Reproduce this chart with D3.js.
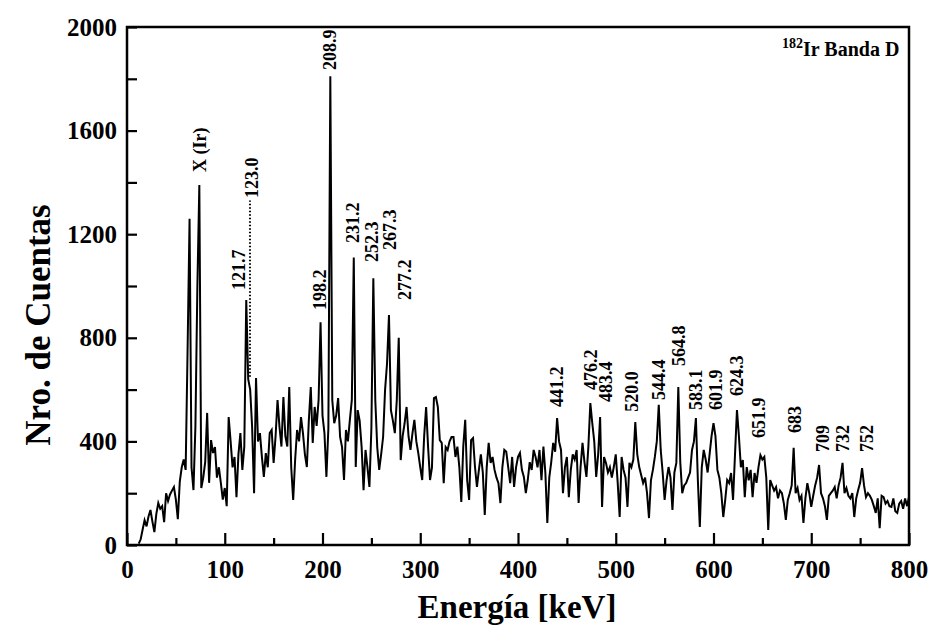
<!DOCTYPE html>
<html>
<head>
<meta charset="utf-8">
<script src="https://cdn.jsdelivr.net/npm/d3@7"></script>
<style>
  body { margin: 0; background: #fff; }
  text { font-family: "Liberation Serif", "Times New Roman", serif; fill: #000; }
</style>
</head>
<body>
<script>
// espectro gamma 182Ir - banda D

var width = 931;
var height = 636;

// canales cada 2 keV desde 12 keV hasta 800 keV
var energia = d3.range(12, 801, 2);

var cuentas = [
  5, 22, 60, 96, 72, 110, 135, 90, 50, 120,          // 12-30
  162, 140, 150, 88, 200, 170, 195, 210, 224, 175,   // 32-50
  100, 245, 300, 330, 290, 760, 1260, 300, 212, 460, // 52-70
  1000, 1390, 220, 260, 320, 510, 240, 405, 355, 378, // 72-90
  260, 300, 240, 175, 220, 150, 494, 400, 300, 340,  // 92-110
  185, 350, 432, 290, 380, 946, 640, 600, 456, 200,  // 112-130
  645, 400, 432, 340, 263, 355, 300, 432, 444, 317,  // 132-150
  420, 560, 456, 380, 571, 420, 380, 610, 300, 174,  // 152-170
  328, 444, 400, 494, 432, 350, 301, 480, 610, 394,  // 172-190
  533, 460, 560, 860, 500, 432, 263, 450, 1810, 560, // 192-210
  470, 500, 567, 417, 378, 251, 444, 400, 483, 560,  // 212-230
  1110, 301, 521, 480, 380, 212, 367, 300, 224, 450, // 232-250
  1030, 560, 378, 290, 350, 417, 598, 700, 888, 521, // 252-270
  480, 432, 560, 800, 328, 420, 470, 533, 420, 367,  // 272-290
  430, 483, 400, 355, 300, 251, 420, 533, 380, 251,  // 292-310
  300, 567, 571, 533, 405, 394, 239, 378, 367, 400,  // 312-330
  417, 417, 340, 380, 300, 166, 380, 483, 250, 174,  // 332-350
  405, 413, 301, 224, 290, 350, 280, 116, 300, 394,  // 352-370
  317, 340, 290, 260, 239, 162, 300, 367, 360, 300,  // 372-390
  239, 340, 224, 300, 340, 355, 290, 263, 200, 251,  // 392-410
  320, 290, 367, 340, 300, 367, 250, 380, 278, 85,   // 412-430
  260, 320, 394, 360, 490, 400, 367, 200, 300, 340,  // 432-450
  185, 290, 350, 330, 367, 162, 300, 394, 320, 263,  // 452-470
  380, 548, 470, 400, 263, 350, 494, 147, 340, 317,  // 472-490
  280, 300, 260, 301, 350, 240, 108, 340, 290, 260,  // 492-510
  147, 317, 300, 330, 475, 350, 301, 270, 239, 260,  // 512-530
  200, 104, 250, 290, 340, 400, 541, 367, 280, 174,  // 532-550
  250, 301, 260, 135, 280, 317, 610, 320, 200, 230,  // 552-570
  239, 260, 280, 367, 400, 490, 250, 70, 300, 367,   // 572-590
  330, 280, 350, 420, 470, 420, 290, 260, 200, 108,  // 592-610
  174, 251, 239, 278, 174, 350, 521, 420, 300, 328,  // 612-630
  185, 301, 250, 290, 185, 278, 240, 300, 347, 330,  // 632-650
  340, 260, 58, 251, 230, 210, 224, 180, 210, 200,   // 652-670
  160, 97, 174, 200, 230, 375, 200, 220, 174, 190,   // 672-690
  85, 180, 239, 200, 147, 190, 230, 260, 309, 200,   // 692-710
  180, 150, 97, 190, 200, 210, 224, 180, 230, 260,   // 712-730
  317, 200, 220, 190, 180, 200, 108, 180, 212, 240,  // 732-750
  297, 230, 185, 200, 190, 174, 150, 124, 180, 65,   // 752-770
  190, 185, 160, 170, 150, 147, 180, 130, 124, 160,  // 772-790
  170, 140, 180, 150, 185                            // 792-800
];

// etiquetas de picos: texto, energia (centro) y nivel donde empieza el texto
var picoTexto = ['X (Ir)', '121.7', '123.0', '198.2', '208.9', '231.2', '252.3', '267.3', '277.2',
  '441.2', '476.2', '483.4', '520.0', '544.4', '564.8', '583.1', '601.9', '624.3', '651.9',
  '683', '709', '732', '752'];
var picoEnergia = [74.7, 114.6, 127.5, 197.4, 207.7, 231.2, 250.6, 269.1, 284.4,
  439.9, 474.7, 490.0, 516.6, 544.2, 564.7, 582.1, 602.6, 624.0, 646.5,
  682.9, 711.5, 732.0, 756.5];
var picoNivel = [1440, 985, 1340, 907, 1834, 1166, 1093, 1139, 946,
  533, 598, 552, 514, 560, 691, 521, 521, 575, 413,
  432, 359, 359, 359];

// linea punteada del pico 123.0
var punteadaEnergia = 125.8;
var punteadaCuentas = [650, 1330];

var xTicks = d3.range(0, 801, 100);
var xMinor = d3.range(50, 800, 100);
var yTicks = d3.range(0, 2001, 400);
var yMinor = d3.range(200, 2000, 400);

var plotL = 127, plotR = 909, plotT = 27, plotB = 545;

var x = d3.scaleLinear().domain([0, 800]).range([plotL, plotR]);
var y = d3.scaleLinear().domain([0, 2000]).range([plotB, plotT]);

var svg = d3.select('body')
  .append('svg')
  .attr('width', width)
  .attr('height', height);

// espectro
var line = d3.line()
  .x(function(d, i) { return x(energia[i]); })
  .y(function(d) { return y(d); });

svg.append('path')
  .datum(cuentas)
  .attr('d', line)
  .attr('fill', 'none')
  .attr('stroke', '#000')
  .attr('stroke-width', 2)
  .attr('stroke-linejoin', 'miter');

// linea punteada
svg.append('line')
  .attr('x1', x(punteadaEnergia))
  .attr('x2', x(punteadaEnergia))
  .attr('y1', y(punteadaCuentas[0]))
  .attr('y2', y(punteadaCuentas[1]))
  .attr('stroke', '#000')
  .attr('stroke-width', 2)
  .attr('stroke-dasharray', '1.5,2');

// ejes (ticks hacia dentro)
var fmt = d3.format('d');
var xAxis = d3.axisBottom(x).tickValues(xTicks).tickFormat(fmt).tickSize(-12).tickPadding(18);
var yAxis = d3.axisLeft(y).tickValues(yTicks).tickFormat(fmt).tickSize(-10).tickPadding(10);

var gx = svg.append('g')
  .attr('transform', 'translate(0,' + plotB + ')')
  .call(xAxis);
gx.selectAll('.tick text').attr('font-size', 25).attr('font-weight', 'bold').attr('dy', '0.6em');

svg.append('g')
  .attr('transform', 'translate(0,' + plotB + ')')
  .call(d3.axisBottom(x).tickValues(xMinor).tickSize(-7).tickFormat(''));

var gy = svg.append('g')
  .attr('transform', 'translate(' + plotL + ',0)')
  .call(yAxis);
gy.selectAll('.tick text').attr('font-size', 25).attr('font-weight', 'bold');

svg.append('g')
  .attr('transform', 'translate(' + plotL + ',0)')
  .call(d3.axisLeft(y).tickValues(yMinor).tickSize(-10).tickFormat(''));

svg.selectAll('.domain').remove();
svg.selectAll('.tick line').attr('stroke', '#000').attr('stroke-width', 2.2);
svg.selectAll('.tick text').attr('font-family', '"Liberation Serif", serif').attr('fill', '#000');

// marco
svg.append('rect')
  .attr('x', plotL)
  .attr('y', plotT)
  .attr('width', plotR - plotL)
  .attr('height', plotB - plotT)
  .attr('fill', 'none')
  .attr('stroke', '#000')
  .attr('stroke-width', 2.5);

// etiquetas de los picos
svg.selectAll('text.pico')
  .data(picoTexto)
  .enter()
  .append('text')
  .attr('class', 'pico')
  .attr('transform', function(d, i) {
    return 'translate(' + x(picoEnergia[i]) + ',' + y(picoNivel[i]) + ') rotate(-90)';
  })
  .attr('dy', '0.35em')
  .attr('font-size', 18)
  .attr('font-weight', 'bold')
  .text(function(d) { return d; });

// titulos de ejes
svg.append('text')
  .attr('x', 517)
  .attr('y', 618)
  .attr('text-anchor', 'middle')
  .attr('font-size', 33)
  .attr('font-weight', 'bold')
  .text('Energía [keV]');

svg.append('text')
  .attr('transform', 'translate(50,325) rotate(-90)')
  .attr('text-anchor', 'middle')
  .attr('font-size', 35)
  .attr('font-weight', 'bold')
  .text('Nro. de Cuentas');

// rotulo
var rotulo = svg.append('text')
  .attr('x', 782)
  .attr('y', 56)
  .attr('font-size', 20)
  .attr('font-weight', 'bold');
rotulo.append('tspan')
  .attr('font-size', 14)
  .attr('dy', -8)
  .text('182');
rotulo.append('tspan')
  .attr('dy', 8)
  .text('Ir Banda D');
</script>
</body>
</html>
